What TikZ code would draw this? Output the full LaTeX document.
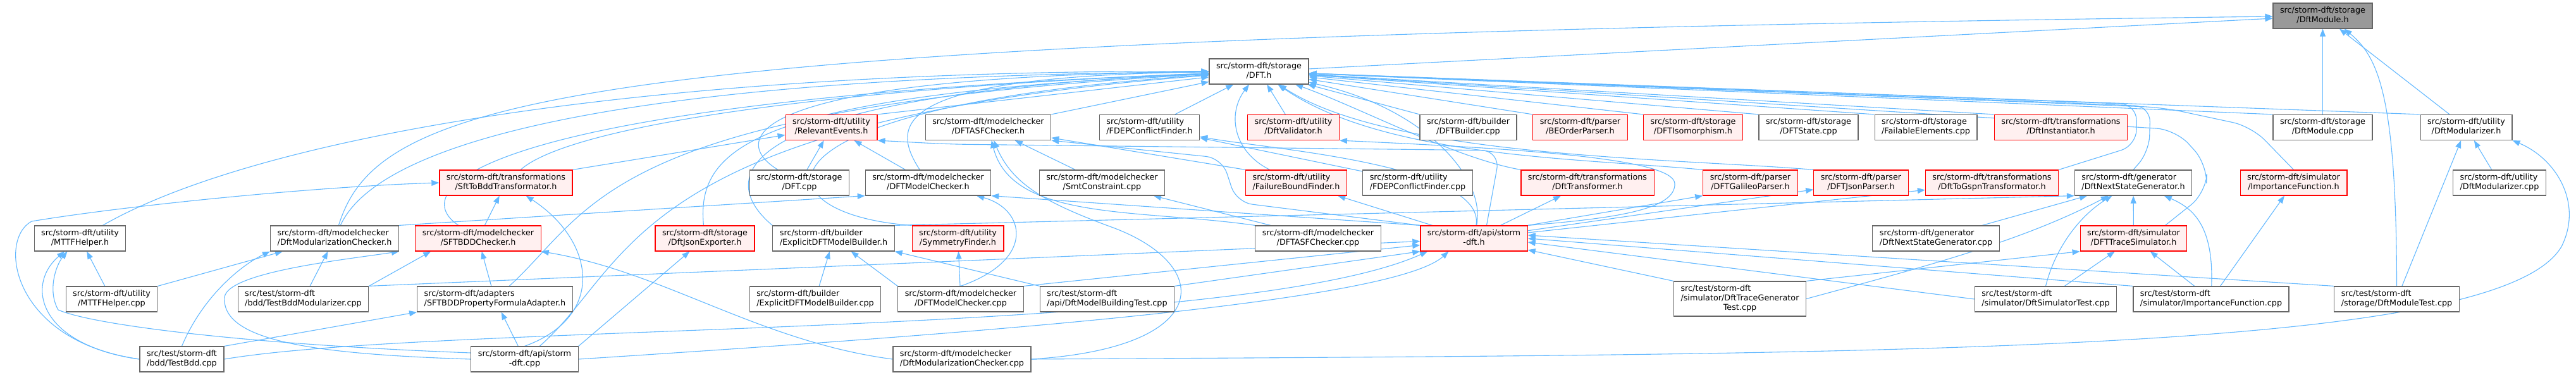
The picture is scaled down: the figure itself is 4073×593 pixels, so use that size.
\documentclass[tikz,border=0pt]{standalone}
\usepackage{fontspec}
\setmainfont{DejaVu Sans}
\usetikzlibrary{arrows.meta, backgrounds}

\definecolor{edgeblue}{HTML}{63B8FF}
\definecolor{boxgray}{HTML}{666666}
\definecolor{hotfill}{HTML}{FFF0F0}
\definecolor{rootfill}{HTML}{999999}

% file label: first line flush left, last line centred
\newcommand{\flbl}[2]{\begin{tabular}{@{}l@{}}#1\\\multicolumn{1}{@{}c@{}}{#2}\end{tabular}}
\newcommand{\flblthree}[3]{\begin{tabular}{@{}l@{}}#1\\#2\\\multicolumn{1}{@{}c@{}}{#3}\end{tabular}}

\tikzset{
  file/.style={draw=boxgray, fill=white, line width=1.2pt, inner xsep=11pt, inner ysep=5pt,
    font=\fontsize{12.8}{15}\selectfont},
  hot/.style={file, draw=red, fill=hotfill},
  root/.style={file, fill=rootfill},
  incl/.style={draw=edgeblue, line width=1.1pt, -{Triangle[length=12pt,width=9pt]}},
}

\begin{document}
\begin{tikzpicture}[x=1pt, y=-1pt]
    \useasboundingbox (0,0) rectangle (4073,593);

    % the file itself and DFT.h
    \node[root] (dm) at (3672.5,25) {\flbl{src/storm-dft/storage}{/DftModule.h}};
    \node[file] (dft) at (1990.5,113) {\flbl{src/storm-dft/storage}{/DFT.h}};

    % second row
    \node[hot]  (rel)    at (1314.5,201.5) {\flbl{src/storm-dft/utility}{/RelevantEvents.h}};
    \node[file] (asfh)   at (1562.5,201.5) {\flbl{src/storm-dft/modelchecker}{/DFTASFChecker.h}};
    \node[file] (fdeph)  at (1817.5,201.5) {\flbl{src/storm-dft/utility}{/FDEPConflictFinder.h}};
    \node[hot]  (valid)  at (2045,201.5)   {\flbl{src/storm-dft/utility}{/DftValidator.h}};
    \node[file] (bldcpp) at (2321.5,201.5) {\flbl{src/storm-dft/builder}{/DFTBuilder.cpp}};
    \node[hot]  (beop)   at (2498.5,201.5) {\flbl{src/storm-dft/parser}{/BEOrderParser.h}};
    \node[hot]  (iso)    at (2677,201.5)   {\flbl{src/storm-dft/storage}{/DFTIsomorphism.h}};
    \node[file] (state)  at (2859.5,201.5) {\flbl{src/storm-dft/storage}{/DFTState.cpp}};
    \node[file] (fail)   at (3045,201.5)   {\flbl{src/storm-dft/storage}{/FailableElements.cpp}};
    \node[hot]  (inst)   at (3258.5,201.5) {\flbl{src/storm-dft/transformations}{/DftInstantiator.h}};
    \node[file] (dmcpp)  at (3672.5,201.5) {\flbl{src/storm-dft/storage}{/DftModule.cpp}};
    \node[file] (dmodh)  at (3899.5,201.5) {\flbl{src/storm-dft/utility}{/DftModularizer.h}};

    % third row
    \node[hot]  (sftbdd)  at (800,289)    {\flbl{src/storm-dft/transformations}{/SftToBddTransformator.h}};
    \node[file] (dftcpp)  at (1264,289)   {\flbl{src/storm-dft/storage}{/DFT.cpp}};
    \node[file] (mch)     at (1467.5,289) {\flbl{src/storm-dft/modelchecker}{/DFTModelChecker.h}};
    \node[file] (smt)     at (1742.5,289) {\flbl{src/storm-dft/modelchecker}{/SmtConstraint.cpp}};
    \node[hot]  (fbf)     at (2049.5,289) {\flbl{src/storm-dft/utility}{/FailureBoundFinder.h}};
    \node[file] (fdepcpp) at (2241.5,289) {\flbl{src/storm-dft/utility}{/FDEPConflictFinder.cpp}};
    \node[hot]  (trans)   at (2510,289)   {\flbl{src/storm-dft/transformations}{/DftTransformer.h}};
    \node[hot]  (gal)     at (2767.5,289) {\flbl{src/storm-dft/parser}{/DFTGalileoParser.h}};
    \node[hot]  (json)    at (2942.5,289) {\flbl{src/storm-dft/parser}{/DFTJsonParser.h}};
    \node[hot]  (gspn)    at (3149.5,289) {\flbl{src/storm-dft/transformations}{/DftToGspnTransformator.h}};
    \node[file] (nsg)     at (3373,289)   {\flbl{src/storm-dft/generator}{/DftNextStateGenerator.h}};
    \node[hot]  (impf)    at (3626.5,289) {\flbl{src/storm-dft/simulator}{/ImportanceFunction.h}};
    \node[file] (dmodcpp) at (3952,289)   {\flbl{src/storm-dft/utility}{/DftModularizer.cpp}};

    % fourth row
    \node[file] (mtth)     at (126.5,377)  {\flbl{src/storm-dft/utility}{/MTTFHelper.h}};
    \node[file] (dmch)     at (529,377)    {\flbl{src/storm-dft/modelchecker}{/DftModularizationChecker.h}};
    \node[hot]  (sftchk)   at (756,377)    {\flbl{src/storm-dft/modelchecker}{/SFTBDDChecker.h}};
    \node[hot]  (exporter) at (1114.5,377) {\flbl{src/storm-dft/storage}{/DftJsonExporter.h}};
    \node[file] (expl)     at (1318,377)   {\flbl{src/storm-dft/builder}{/ExplicitDFTModelBuilder.h}};
    \node[hot]  (sym)      at (1514.5,377) {\flbl{src/storm-dft/utility}{/SymmetryFinder.h}};
    \node[file] (asfcpp)   at (2084,377)   {\flbl{src/storm-dft/modelchecker}{/DFTASFChecker.cpp}};
    \node[hot]  (api)      at (2330.5,377) {\flbl{src/storm-dft/api/storm}{-dft.h}};
    \node[file] (nsgcpp)   at (3061,377)   {\flbl{src/storm-dft/generator}{/DftNextStateGenerator.cpp}};
    \node[hot]  (trace)    at (3373.5,377) {\flbl{src/storm-dft/simulator}{/DFTTraceSimulator.h}};

    % fifth row
    \node[file] (mttcpp)    at (176.5,473)  {\flbl{src/storm-dft/utility}{/MTTFHelper.cpp}};
    \node[file] (bddmod)    at (479.5,473)  {\flbl{src/test/storm-dft}{/bdd/TestBddModularizer.cpp}};
    \node[file] (adapter)   at (782.5,473)  {\flbl{src/storm-dft/adapters}{/SFTBDDPropertyFormulaAdapter.h}};
    \node[file] (explcpp)   at (1289,473)   {\flbl{src/storm-dft/builder}{/ExplicitDFTModelBuilder.cpp}};
    \node[file] (mccpp)     at (1519,473)   {\flbl{src/storm-dft/modelchecker}{/DFTModelChecker.cpp}};
    \node[file] (buildtest) at (1750.5,473) {\flbl{src/test/storm-dft}{/api/DftModelBuildingTest.cpp}};
    \node[file] (tgtest)    at (2751,472.5) {\flblthree{src/test/storm-dft}{/simulator/DftTraceGenerator}{Test.cpp}};
    \node[file] (simtest)   at (3234.5,473) {\flbl{src/test/storm-dft}{/simulator/DftSimulatorTest.cpp}};
    \node[file] (impcpp)    at (3496,473)   {\flbl{src/test/storm-dft}{/simulator/ImportanceFunction.cpp}};
    \node[file] (dmtest)    at (3789.5,473) {\flbl{src/test/storm-dft}{/storage/DftModuleTest.cpp}};

    % bottom row
    \node[file] (testbdd) at (287.5,568) {\flbl{src/test/storm-dft}{/bdd/TestBdd.cpp}};
    \node[file] (sdcpp)   at (829.5,568) {\flbl{src/storm-dft/api/storm}{-dft.cpp}};
    \node[file] (dmccpp)  at (1521,568)  {\flbl{src/storm-dft/modelchecker}{/DftModularizationChecker.cpp}};

    \begin{scope}[on background layer]
    % includes of DftModule.h
    \draw[incl] (dft) -- (dm);
    \draw[incl] (dmcpp) -- (dm);
    \draw[incl] (dmodh) -- (dm);
    \draw[incl] (dmtest.north) .. controls (3789,150) and (3760,90) .. ([xshift=-45pt]dm.south east);
    \draw[incl] (dmch) .. controls (600,150) and (900,60) .. (dm);

    % includes of DFT.h
    \draw[incl] (rel.north east) -- (dft);
    \draw[incl] (asfh.north east) -- (dft);
    \draw[incl] (fdeph) -- (dft);
    \draw[incl] (valid) -- (dft);
    \draw[incl] (bldcpp.north west) -- (dft);
    \draw[incl] (beop.north west) -- (dft);
    \draw[incl] (iso.north west) -- (dft);
    \draw[incl] (state.north west) -- (dft);
    \draw[incl] (fail.north west) -- (dft);
    \draw[incl] (inst.north west) -- (dft);
    \draw[incl] (dmcpp.north west) -- (dft);
    \draw[incl] (dmodh.north west) -- (dft);
    \draw[incl] (sftbdd) .. controls (900,200) and (1300,140) .. (dft);
    \draw[incl] (dftcpp) .. controls (1150,220) and (1180,120) .. (dft);
    \draw[incl] (mch) .. controls (1410,200) and (1400,120) .. (dft);
    \draw[incl] (fbf) .. controls (1950,240) and (1940,180) .. (dft);
    \draw[incl] (trans.north west) .. controls (2300,250) and (2150,170) .. (dft);
    \draw[incl] (api) .. controls (2350,280) and (2250,170) .. (dft);
    \draw[incl] (gal.north west) .. controls (2500,250) and (2190,250) .. (dft);
    \draw[incl] (json.north west) .. controls (2650,250) and (2200,250) .. (dft);
    \draw[incl, rounded corners=25pt] (gspn.north east) -- (3378,230) -- (3378,165) -- (dft);
    \draw[incl, rounded corners=25pt] (nsg.north) -- (3398,240) -- (3400,168) -- (dft);
    \draw[incl, rounded corners=30pt] (impf.north) -- (3560,200) -- (3420,170) -- (dft);
    \draw[incl, rounded corners=30pt] ([xshift=50pt]trace.north) -- (3488,305) -- (3490,260) -- (3440,205) -- (dft);
    \draw[incl] (mtth) .. controls (400,220) and (1000,110) .. (dft);
    \draw[incl] (dmch) .. controls (600,220) and (1000,120) .. (dft);
    \draw[incl] (sftchk) .. controls (640,300) and (750,160) .. (dft);
    \draw[incl] (exporter) .. controls (1100,230) and (1200,150) .. (dft);
    \draw[incl] (expl.north west) .. controls (1130,280) and (1150,150) .. (dft);
    \draw[incl] (sym.north west) .. controls (1200,340) and (1150,170) .. (dft);
    \draw[incl] (adapter) .. controls (940,330) and (950,170) .. (dft);
    \draw[incl] (sdcpp) .. controls (1000,420) and (990,190) .. (dft);

    % second row targets
    \draw[incl] (sftbdd.north east) -- (rel);
    \draw[incl] (dftcpp) -- (rel);
    \draw[incl] (mch) -- (rel);
    \draw[incl, rounded corners=30pt] ([xshift=20pt]api.north) -- (2372,238) -- (1500,228) -- (rel.south east);
    \draw[incl] (smt) -- (asfh);
    \draw[incl] (fbf.north west) -- (asfh);
    \draw[incl, rounded corners=25pt] (api.north west) -- (1955,320) -- (1932,250) -- (asfh.south east);
    \draw[incl] (asfcpp.north west) .. controls (1800,330) and (1600,350) .. (asfh);
    \draw[incl] (dmccpp.east) .. controls (1920,550) and (1920,420) .. (1760,360) .. controls (1650,320) and (1600,290) .. (asfh);
    \draw[incl] (fdepcpp) -- (fdeph);
    \draw[incl] (api) .. controls (2350,260) and (2000,235) .. (fdeph);
    \draw[incl] (api.north east) .. controls (2560,345) and (2650,330) .. (2648,290) .. controls (2645,250) and (2400,235) .. (valid.south east);

    % third row targets
    \draw[incl] (sftchk) -- (sftbdd);
    \draw[incl] (testbdd.west) .. controls (20,540) and (-5,380) .. (50,350) .. controls (200,325) and (500,295) .. (sftbdd.west);
    \draw[incl] (sdcpp.north) .. controls (960,500) and (940,380) .. (sftbdd);
    \draw[incl] (dmch.north east) -- (mch.south west);
    \draw[incl] (mccpp.north) .. controls (1640,410) and (1620,330) .. (mch);
    \draw[incl] (api.north west) -- (mch.south east);
    \draw[incl] ([xshift=25pt]asfcpp.north west) -- (smt);
    \draw[incl] (api) -- (fbf);
    \draw[incl] (api) -- (trans);
    \draw[incl] (api.north east) -- (gal.south west);
    \draw[incl] (api) -- (json);
    \draw[incl] (api) -- (gspn);
    \draw[incl] (nsgcpp) -- (nsg);
    \draw[incl] (trace) -- (nsg);
    \draw[incl] (expl.north east) -- (nsg.south west);
    \draw[incl] (tgtest.east) .. controls (3050,420) and (3200,380) .. (nsg);
    \draw[incl] (simtest.north) .. controls (3250,390) and (3290,340) .. (nsg);
    \draw[incl] (impcpp) .. controls (3500,360) and (3470,330) .. (nsg);
    \draw[incl] (impcpp) -- (impf);
    \draw[incl] (dmodcpp) -- (dmodh);
    \draw[incl] (dmtest) -- (dmodh);
    \draw[incl] (dmccpp.east) .. controls (3000,560) and (3950,560) .. (4050,390) .. controls (4085,320) and (4040,250) .. (dmodh.south east);

    % fourth row targets
    \draw[incl] (mttcpp) -- (mtth);
    \draw[incl] (testbdd.west) .. controls (60,545) and (40,450) .. (mtth);
    \draw[incl] ([yshift=10pt]sdcpp.west) .. controls (400,545) and (150,515) .. (92,490) .. controls (75,460) and (88,420) .. ([xshift=-20pt]mtth.south);
    \draw[incl] (mttcpp.north east) -- ([xshift=20pt]dmch.south west);
    \draw[incl] (testbdd.north) .. controls (320,470) and (380,420) .. (dmch.south west);
    \draw[incl] (bddmod) -- (dmch);
    \draw[incl] (sdcpp.west) .. controls (500,560) and (350,540) .. (355,470) .. controls (360,430) and (550,410) .. (dmch.south east);
    \draw[incl] (adapter) -- (sftchk);
    \draw[incl] (dmccpp.west) .. controls (1200,540) and (1050,430) .. (sftchk.south east);
    \draw[incl] (bddmod.north east) -- ([xshift=25pt]sftchk.south west);
    \draw[incl] (sdcpp.north east) -- (exporter);
    \draw[incl] (explcpp) -- (expl);
    \draw[incl] (mccpp.north west) -- (expl);
    \draw[incl] (buildtest.north west) -- (expl.south east);
    \draw[incl] (mccpp) -- (sym);
    \draw[incl] (mccpp.north east) -- ([yshift=10pt]api.south west);
    \draw[incl] (buildtest.north east) -- (api.south west);
    \draw[incl] (tgtest.north west) -- (api);
    \draw[incl] (simtest.west) -- ([yshift=-6pt]api.east);
    \draw[incl] (impcpp.north west) -- (api.east);
    \draw[incl] (dmtest.north west) -- ([yshift=5pt]api.east);
    \draw[incl] (testbdd.east) .. controls (700,510) and (1950,535) .. ([xshift=12pt]api.south west);
    \draw[incl] (bddmod.north east) -- ([yshift=16pt]api.south west);
    \draw[incl] (sdcpp.east) .. controls (1500,530) and (2200,480) .. ([xshift=-40pt]api.south);
    \draw[incl] (tgtest.north east) -- (trace.south west);
    \draw[incl] (simtest) -- (trace);
    \draw[incl] (impcpp) -- (trace);

    % fifth row targets
    \draw[incl] (testbdd.north east) -- (adapter.south west);
    \draw[incl] (sdcpp) -- (adapter);
    \end{scope}

\end{tikzpicture}
\end{document}
